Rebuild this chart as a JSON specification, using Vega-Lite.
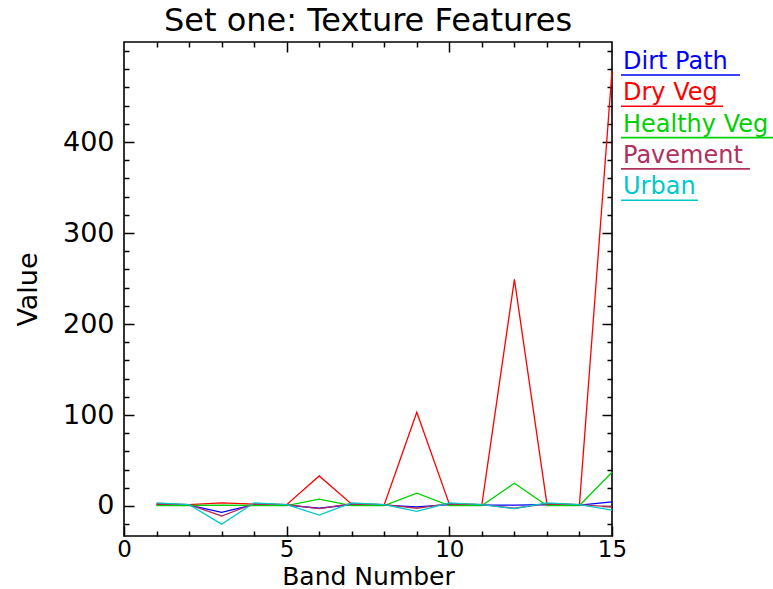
{
  "$schema": "https://vega.github.io/schema/vega-lite/v6.json",
  "width": 488,
  "height": 494,
  "autosize": {"type": "none"},
  "padding": {"left": 124, "top": 42, "right": 161, "bottom": 53},
  "background": "white",
  "title": {"text": "Set one: Texture Features", "fontSize": 32, "font": "DejaVu Sans", "fontWeight": "normal", "color": "#000", "offset": 3},
  "data": {"values": [
    {"band": 1, "series": "Dirt Path", "value": 1.5}, {"band": 2, "series": "Dirt Path", "value": 1}, {"band": 3, "series": "Dirt Path", "value": -7}, {"band": 4, "series": "Dirt Path", "value": 1.5}, {"band": 5, "series": "Dirt Path", "value": 1}, {"band": 6, "series": "Dirt Path", "value": -2.5}, {"band": 7, "series": "Dirt Path", "value": 1.5}, {"band": 8, "series": "Dirt Path", "value": 1}, {"band": 9, "series": "Dirt Path", "value": -1}, {"band": 10, "series": "Dirt Path", "value": 1.5}, {"band": 11, "series": "Dirt Path", "value": 1}, {"band": 12, "series": "Dirt Path", "value": 1}, {"band": 13, "series": "Dirt Path", "value": 1.5}, {"band": 14, "series": "Dirt Path", "value": 1}, {"band": 15, "series": "Dirt Path", "value": 4.5},
    {"band": 1, "series": "Dry Veg", "value": 2}, {"band": 2, "series": "Dry Veg", "value": 1.5}, {"band": 3, "series": "Dry Veg", "value": 3.5}, {"band": 4, "series": "Dry Veg", "value": 2}, {"band": 5, "series": "Dry Veg", "value": 1.5}, {"band": 6, "series": "Dry Veg", "value": 33}, {"band": 7, "series": "Dry Veg", "value": 2}, {"band": 8, "series": "Dry Veg", "value": 1.5}, {"band": 9, "series": "Dry Veg", "value": 103}, {"band": 10, "series": "Dry Veg", "value": 2}, {"band": 11, "series": "Dry Veg", "value": 1.5}, {"band": 12, "series": "Dry Veg", "value": 249}, {"band": 13, "series": "Dry Veg", "value": 2}, {"band": 14, "series": "Dry Veg", "value": 1.5}, {"band": 15, "series": "Dry Veg", "value": 478},
    {"band": 1, "series": "Healthy Veg", "value": 0.5}, {"band": 2, "series": "Healthy Veg", "value": 0.5}, {"band": 3, "series": "Healthy Veg", "value": 1}, {"band": 4, "series": "Healthy Veg", "value": 0.5}, {"band": 5, "series": "Healthy Veg", "value": 0.5}, {"band": 6, "series": "Healthy Veg", "value": 7.5}, {"band": 7, "series": "Healthy Veg", "value": 0.5}, {"band": 8, "series": "Healthy Veg", "value": 0.5}, {"band": 9, "series": "Healthy Veg", "value": 14}, {"band": 10, "series": "Healthy Veg", "value": 0.5}, {"band": 11, "series": "Healthy Veg", "value": 0.5}, {"band": 12, "series": "Healthy Veg", "value": 25}, {"band": 13, "series": "Healthy Veg", "value": 0.5}, {"band": 14, "series": "Healthy Veg", "value": 0.5}, {"band": 15, "series": "Healthy Veg", "value": 37},
    {"band": 1, "series": "Pavement", "value": 2.5}, {"band": 2, "series": "Pavement", "value": 1.5}, {"band": 3, "series": "Pavement", "value": -11}, {"band": 4, "series": "Pavement", "value": 2.5}, {"band": 5, "series": "Pavement", "value": 1.5}, {"band": 6, "series": "Pavement", "value": -3}, {"band": 7, "series": "Pavement", "value": 2.5}, {"band": 8, "series": "Pavement", "value": 1.5}, {"band": 9, "series": "Pavement", "value": -2.5}, {"band": 10, "series": "Pavement", "value": 2.5}, {"band": 11, "series": "Pavement", "value": 1.5}, {"band": 12, "series": "Pavement", "value": -2.5}, {"band": 13, "series": "Pavement", "value": 2.5}, {"band": 14, "series": "Pavement", "value": 1.5}, {"band": 15, "series": "Pavement", "value": -1},
    {"band": 1, "series": "Urban", "value": 3.5}, {"band": 2, "series": "Urban", "value": 1.5}, {"band": 3, "series": "Urban", "value": -20}, {"band": 4, "series": "Urban", "value": 3.5}, {"band": 5, "series": "Urban", "value": 1.5}, {"band": 6, "series": "Urban", "value": -10}, {"band": 7, "series": "Urban", "value": 3.5}, {"band": 8, "series": "Urban", "value": 1.5}, {"band": 9, "series": "Urban", "value": -6}, {"band": 10, "series": "Urban", "value": 3.5}, {"band": 11, "series": "Urban", "value": 1.5}, {"band": 12, "series": "Urban", "value": -3}, {"band": 13, "series": "Urban", "value": 3.5}, {"band": 14, "series": "Urban", "value": 1.5}, {"band": 15, "series": "Urban", "value": -4.5}
  ]},
  "resolve": {"axis": {"x": "independent", "y": "independent"}},
  "layer": [
    {
      "mark": {"type": "line", "strokeWidth": 1.3},
      "encoding": {
        "x": {"field": "band", "type": "quantitative", "scale": {"domain": [0, 15], "nice": false, "zero": false},
          "axis": {"orient": "bottom", "values": [0, 5, 10, 15], "tickSize": -10, "labelPadding": 12, "labelFontSize": 23, "title": "Band Number", "titlePadding": 3, "titleFontSize": 25, "format": "d"}},
        "y": {"field": "value", "type": "quantitative", "scale": {"domain": [-33, 510], "nice": false, "zero": false},
          "axis": {"orient": "left", "values": [0, 100, 200, 300, 400], "tickSize": -10, "labelPadding": 20, "title": "Value", "titlePadding": 20, "titleFontSize": 27, "format": "d"}},
        "color": {"field": "series", "type": "nominal",
          "scale": {"domain": ["Dirt Path", "Dry Veg", "Healthy Veg", "Pavement", "Urban"], "range": ["#0000ff", "#ff0000", "#00d000", "#b03060", "#00c8c8"]},
          "legend": {
            "title": null, "orient": "right", "offset": 0, "padding": 8,
            "labelFont": "DejaVu Sans", "labelFontSize": 24, "labelLimit": 400,
            "symbolSize": 4, "symbolStrokeWidth": 1.6, "rowPadding": 2.3,
            "encode": {
              "symbols": {"update": {"x": {"value": -2}, "shape": {"signal": "datum.value === 'Dirt Path' ? 'M0,13H119' : datum.value === 'Dry Veg' ? 'M0,13H102' : datum.value === 'Healthy Veg' ? 'M0,13H155' : datum.value === 'Pavement' ? 'M0,13H129' : 'M0,13H77'"}}},
              "labels": {"update": {"x": {"value": 0}, "fill": {"scale": "color", "field": "value"}}}
            }
          }}
      }
    },
    {
      "mark": {"type": "point", "opacity": 0},
      "encoding": {
        "x": {"field": "band", "type": "quantitative", "axis": {"orient": "bottom", "values": [1, 2, 3, 4, 6, 7, 8, 9, 11, 12, 13, 14], "tickSize": -5, "labels": false, "title": null}},
        "y": {"field": "value", "type": "quantitative", "axis": {"orient": "left", "values": [-20, 20, 40, 60, 80, 120, 140, 160, 180, 220, 240, 260, 280, 320, 340, 360, 380, 420, 440, 460, 480, 500], "tickSize": -5, "labels": false, "title": null}}
      }
    },
    {
      "mark": {"type": "point", "opacity": 0},
      "encoding": {
        "x": {"field": "band", "type": "quantitative", "axis": {"orient": "top", "values": [5, 10], "tickSize": -10, "labels": false, "title": null}},
        "y": {"field": "value", "type": "quantitative", "axis": {"orient": "right", "values": [0, 100, 200, 300, 400], "tickSize": -10, "labels": false, "title": null}}
      }
    },
    {
      "mark": {"type": "point", "opacity": 0},
      "encoding": {
        "x": {"field": "band", "type": "quantitative", "axis": {"orient": "top", "values": [1, 2, 3, 4, 6, 7, 8, 9, 11, 12, 13, 14], "tickSize": -5, "labels": false, "title": null}},
        "y": {"field": "value", "type": "quantitative", "axis": {"orient": "right", "values": [-20, 20, 40, 60, 80, 120, 140, 160, 180, 220, 240, 260, 280, 320, 340, 360, 380, 420, 440, 460, 480, 500], "tickSize": -5, "labels": false, "title": null}}
      }
    }
  ],
  "config": {
    "view": {"stroke": "#000", "strokeWidth": 1.6},
    "axis": {
      "domain": false, "grid": false, "tickColor": "#000", "tickWidth": 1.5,
      "labelFont": "DejaVu Sans", "labelFontSize": 27, "labelColor": "#000", "labelFlush": false, "labelOverlap": false,
      "titleFont": "DejaVu Sans", "titleFontSize": 27, "titleFontWeight": "normal", "titleColor": "#000"
    }
  }
}
